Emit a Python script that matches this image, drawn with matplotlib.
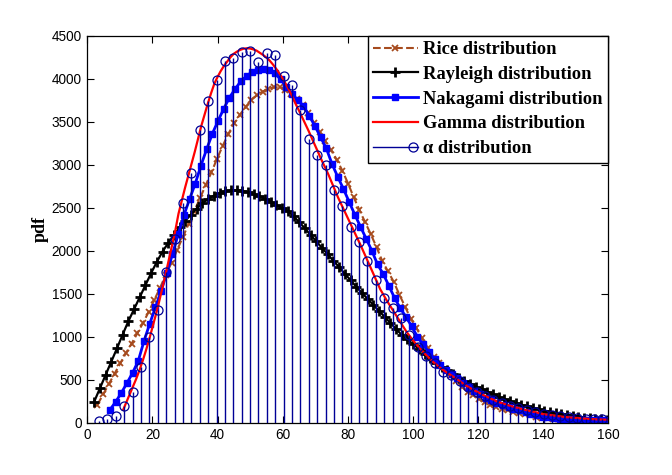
import matplotlib
matplotlib.use('Agg')
import matplotlib.pyplot as plt
import numpy as np
from matplotlib.lines import Line2D
from matplotlib.legend_handler import HandlerLine2DCompound

# Rayleigh fit, markers every 1.75 starting at 2.1
rayleigh_y = [245, 400, 555, 710, 865, 1025, 1180, 1320, 1460, 1600,
              1740, 1870, 1990, 2090, 2180, 2270, 2350, 2420, 2490, 2550,
              2600, 2640, 2670, 2690, 2700, 2705, 2695, 2680, 2660, 2635,
              2600, 2570, 2530, 2495, 2460, 2400, 2330, 2260, 2180, 2110,
              2030, 1960, 1880, 1810, 1730, 1660, 1580, 1510, 1440, 1370,
              1300, 1230, 1160, 1090, 1020, 970, 910, 860, 800, 750,
              700, 650, 610, 565, 525, 490, 455, 420, 390, 360,
              330, 300, 275, 250, 230, 210, 190, 170, 155, 140,
              125, 115, 100, 90, 80, 70, 60, 52, 45, 40, 35]
rayleigh_x0, rayleigh_dx = 2.1, 1.75

# Rice fit
rice_y = [210, 330, 450, 570, 690, 810, 920, 1040, 1160, 1290,
          1430, 1570, 1720, 1860, 2010, 2160, 2310, 2460, 2610, 2760,
          2910, 3070, 3220, 3360, 3480, 3580, 3670, 3750, 3810, 3850,
          3880, 3900, 3900, 3870, 3825, 3760, 3690, 3600, 3490, 3380,
          3270, 3170, 3060, 2930, 2780, 2620, 2470, 2330, 2190, 2040,
          1880, 1760, 1640, 1490, 1350, 1210, 1100, 980, 870, 765,
          690, 630, 560, 490, 420, 360, 320, 275, 240, 210,
          185, 165, 145, 130, 115, 100, 85, 70, 60, 52,
          46, 40, 36, 32, 29, 26, 24, 22, 20, 19]
rice_x0, rice_dx = 3.1, 1.75

# Nakagami fit
nakagami_y = [150, 240, 345, 460, 580, 720, 950, 1150, 1340, 1530,
              1740, 1960, 2190, 2410, 2600, 2780, 2990, 3180, 3360, 3510,
              3650, 3780, 3880, 3970, 4030, 4080, 4105, 4115, 4100, 4060,
              3990, 3900, 3820, 3750, 3680, 3570, 3450, 3320, 3190, 3010,
              2860, 2720, 2570, 2420, 2280, 2140, 2000, 1840, 1730, 1590,
              1450, 1330, 1230, 1120, 1000, 910, 820, 740, 670, 610,
              565, 515, 460, 410, 370, 330, 290, 260, 235, 210,
              185, 165, 145, 125, 100, 85, 72, 62, 54, 48,
              44, 40, 36, 34, 32, 31, 30, 30]
nakagami_x0, nakagami_dx = 6.9, 1.75

# Gamma fit (line only)
gamma_x = [11, 12, 13, 14, 15, 16, 17, 18, 19, 20, 21, 22, 23, 24, 25, 26, 27,
           28, 29, 30, 31, 32, 33, 34, 35, 36, 37, 38, 39, 40, 41, 42, 43, 44,
           45, 46, 47, 48, 49, 50, 51, 52, 53, 54, 55, 56, 57, 58, 59, 60, 61,
           62, 63, 64, 65, 66, 67, 68, 69, 70, 71, 72, 73, 74, 75, 76, 77, 78,
           79, 80, 82, 84, 86, 88, 90, 92, 94, 96, 98, 100, 102, 104, 106, 108,
           110, 112, 114, 116, 118, 120, 122, 124, 126, 128, 130, 132, 134,
           136, 138, 140, 142, 144, 146, 148, 150, 152, 154, 156, 158, 160]
gamma_y = [150, 240, 330, 420, 510, 610, 720, 840, 970, 1110, 1250, 1400, 1560,
           1720, 1890, 2060, 2230, 2430, 2580, 2730, 2870, 3010, 3150, 3300,
           3450, 3580, 3710, 3830, 3940, 4020, 4090, 4150, 4200, 4250, 4290,
           4315, 4335, 4348, 4353, 4350, 4340, 4325, 4300, 4275, 4245, 4210,
           4165, 4115, 4060, 4000, 3935, 3865, 3790, 3705, 3630, 3550, 3470,
           3390, 3305, 3220, 3135, 3050, 2970, 2890, 2800, 2710, 2620, 2540,
           2460, 2380, 2220, 2060, 1890, 1720, 1550, 1420, 1300, 1180, 1060,
           960, 870, 790, 715, 650, 595, 545, 495, 440, 395, 355, 315, 280,
           245, 220, 195, 175, 155, 135, 120, 100, 90, 80, 70, 62, 56, 50, 45,
           40, 37, 35]

# alpha distribution (histogram, drawn as stems)
alpha_y = [25, 45, 80, 200, 360, 645, 1000, 1315, 1750, 2140,
           2550, 2900, 3405, 3745, 3980, 4210, 4240, 4310, 4325, 4190,
           4295, 4275, 4035, 3930, 3630, 3300, 3110, 3000, 2700, 2520,
           2270, 2100, 1880, 1660, 1450, 1330, 1215, 1020, 880, 780,
           690, 595, 557, 480, 420, 360, 310, 270, 225, 200,
           175, 145, 125, 105, 90, 75, 62, 55, 48, 42, 38]
alpha_x0, alpha_dx = 3.6, 2.577

labels = ['Rice distribution', 'Rayleigh distribution', 'Nakagami distribution',
          'Gamma distribution', 'α distribution']

xticks = np.arange(0, 161, 20)
yticks = np.arange(0, 4501, 500)

brown = '#A64B1E'
navy = '#000096'


def grid_x(x0, dx, vals):
    return x0 + dx * np.arange(len(vals))


class StemEndHandler(HandlerLine2DCompound):
    # MATLAB-style stem legend: line with the circle at the right end
    def create_artists(self, legend, orig_handle, xdescent, ydescent,
                       width, height, fontsize, trans):
        arts = super().create_artists(legend, orig_handle, xdescent, ydescent,
                                      width, height, fontsize, trans)
        line, marker = arts
        xd = line.get_xdata()
        marker.set_xdata([xd[-1] - 3])
        return arts


fig = plt.figure(figsize=(6.72, 4.75), dpi=100)
fig.set_facecolor('white')
ax = fig.add_axes([0.13, 0.11, 0.775, 0.815])

ax.plot(grid_x(rice_x0, rice_dx, rice_y), rice_y, '--', color=brown,
        marker='x', ms=4.5, mew=1.3, lw=1.5)
ax.plot(grid_x(rayleigh_x0, rayleigh_dx, rayleigh_y), rayleigh_y, '-',
        color='black', marker='+', ms=7, mew=2, lw=1.6)
ax.plot(grid_x(nakagami_x0, nakagami_dx, nakagami_y), nakagami_y, '-',
        color='#0000FF', marker='s', ms=4.5, lw=2)
ax.plot(gamma_x, gamma_y, '-', color='#FF0000', lw=1.6)

ax_x = grid_x(alpha_x0, alpha_dx, alpha_y)
markerline, stemlines, baseline = ax.stem(ax_x, alpha_y, basefmt=' ')
stemlines.set_color(navy)
stemlines.set_linewidth(1.0)
markerline.set_marker('o')
markerline.set_markersize(6.5)
markerline.set_markerfacecolor('none')
markerline.set_markeredgecolor(navy)
markerline.set_markeredgewidth(0.9)
markerline.set_linestyle('none')

handles = [
    Line2D([], [], ls='--', color=brown, marker='x', ms=4.5, mew=1.3, lw=1.5),
    Line2D([], [], ls='-', color='black', marker='+', ms=7, mew=2, lw=1.6),
    Line2D([], [], ls='-', color='#0000FF', marker='s', ms=4.5, lw=2),
    Line2D([], [], ls='-', color='#FF0000', lw=1.6),
    Line2D([], [], ls='-', color=navy, lw=1.0, marker='o', ms=6.5,
           mfc='none', mec=navy, mew=0.9),
]
leg = ax.legend(handles, labels, loc='upper right', numpoints=1,
                borderaxespad=0, fancybox=False, framealpha=1,
                edgecolor='black', handlelength=2.4, handletextpad=0.3,
                labelspacing=0.42, borderpad=0.3,
                prop={'family': 'Liberation Serif', 'weight': 'bold', 'size': 13.3},
                handler_map={handles[4]: StemEndHandler()})
leg.get_frame().set_linewidth(1.0)

ax.set_xlim(0, 160)
ax.set_ylim(0, 4500)
ax.set_xticks(xticks)
ax.set_yticks(yticks)
ax.tick_params(direction='in', top=True, right=True, length=5, width=0.8,
               labelsize=9.8, pad=4)
for lab in ax.get_xticklabels() + ax.get_yticklabels():
    lab.set_family('Liberation Sans')
for s in ax.spines.values():
    s.set_linewidth(0.9)

ax.set_ylabel('pdf', family='Liberation Serif', weight='bold', fontsize=13,
              labelpad=2)

fig.savefig('out.png', dpi=100)
